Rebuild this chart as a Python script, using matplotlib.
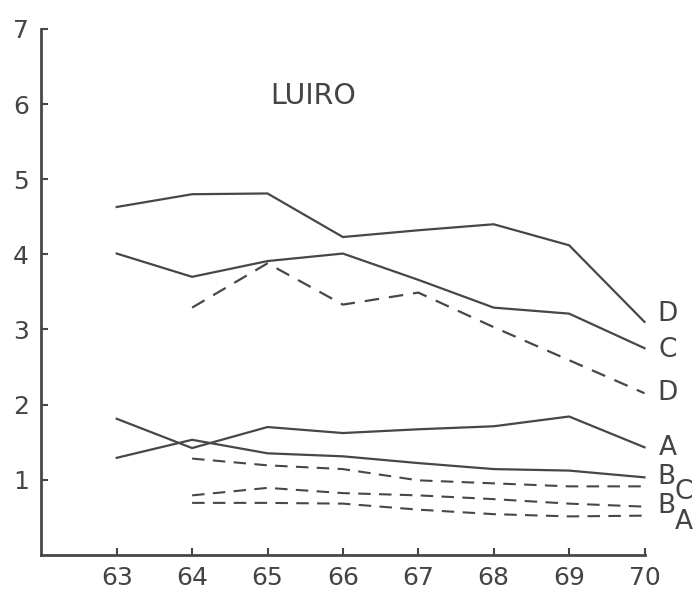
import matplotlib
matplotlib.use("Agg")
import matplotlib.pyplot as plt

# ---- data ----
years = [63, 64, 65, 66, 67, 68, 69, 70]
years_dashed = [64, 65, 66, 67, 68, 69, 70]

solid_D = [4.63, 4.80, 4.81, 4.23, 4.32, 4.40, 4.12, 3.10]
solid_C = [4.01, 3.70, 3.91, 4.01, 3.66, 3.29, 3.21, 2.75]
solid_A = [1.81, 1.42, 1.70, 1.62, 1.67, 1.71, 1.84, 1.43]
solid_B = [1.29, 1.53, 1.35, 1.31, 1.22, 1.14, 1.12, 1.03]

dashed_D = [3.29, 3.88, 3.33, 3.49, 3.03, 2.59, 2.15]
dashed_C = [1.28, 1.19, 1.14, 0.99, 0.95, 0.91, 0.91]
dashed_B = [0.79, 0.89, 0.82, 0.79, 0.74, 0.68, 0.64]
dashed_A = [0.69, 0.69, 0.68, 0.60, 0.54, 0.51, 0.52]

y_ticks = [1, 2, 3, 4, 5, 6, 7]
title = "LUIRO"

# end labels: (text, x, y, fontsize)
end_labels = [
    ("D", 70.31, 3.21, 19),
    ("C", 70.31, 2.72, 19),
    ("D", 70.31, 2.15, 19),
    ("A", 70.31, 1.42, 19),
    ("B", 70.29, 1.04, 19),
    ("C", 70.52, 0.83, 19),
    ("B", 70.29, 0.65, 19),
    ("A", 70.52, 0.44, 19),
]

ink = "#474747"

fig = plt.figure(figsize=(6.95, 5.89), dpi=100)
ax = fig.add_axes([41.3 / 695, (589 - 554.7) / 589, 603.2 / 695, 525.7 / 589])

for ys in (solid_D, solid_C, solid_A, solid_B):
    ax.plot(years, ys, color=ink, lw=1.6, solid_joinstyle="miter", clip_on=False)

ax.plot(years_dashed, dashed_D, color=ink, lw=1.6, dashes=(6.5, 4.5), clip_on=False)
for ys in (dashed_C, dashed_B, dashed_A):
    ax.plot(years_dashed, ys, color=ink, lw=1.5, dashes=(6.0, 4.0), clip_on=False)

ax.set_xlim(62, 70)
ax.set_ylim(0, 7)
ax.set_xticks(years)
ax.set_xticklabels([str(y) for y in years])
ax.set_yticks(y_ticks)
ax.set_yticklabels([str(v) for v in y_ticks])

for s in ("top", "right"):
    ax.spines[s].set_visible(False)
for s in ("left", "bottom"):
    ax.spines[s].set_linewidth(2.0)
    ax.spines[s].set_color(ink)

ax.tick_params(axis="both", direction="in", length=5, width=1.5, color=ink,
               labelsize=18, labelcolor="#444444")
ax.tick_params(axis="y", pad=9)
ax.tick_params(axis="x", pad=8)

ax.text(65.6, 6.11, title, fontsize=20.5, color="#444444", ha="center", va="center")

for txt, x, y, fs in end_labels:
    ax.text(x, y, txt, fontsize=fs, color="#444444", ha="center", va="center",
            clip_on=False)

fig.savefig("out.png", dpi=100, facecolor="white")
